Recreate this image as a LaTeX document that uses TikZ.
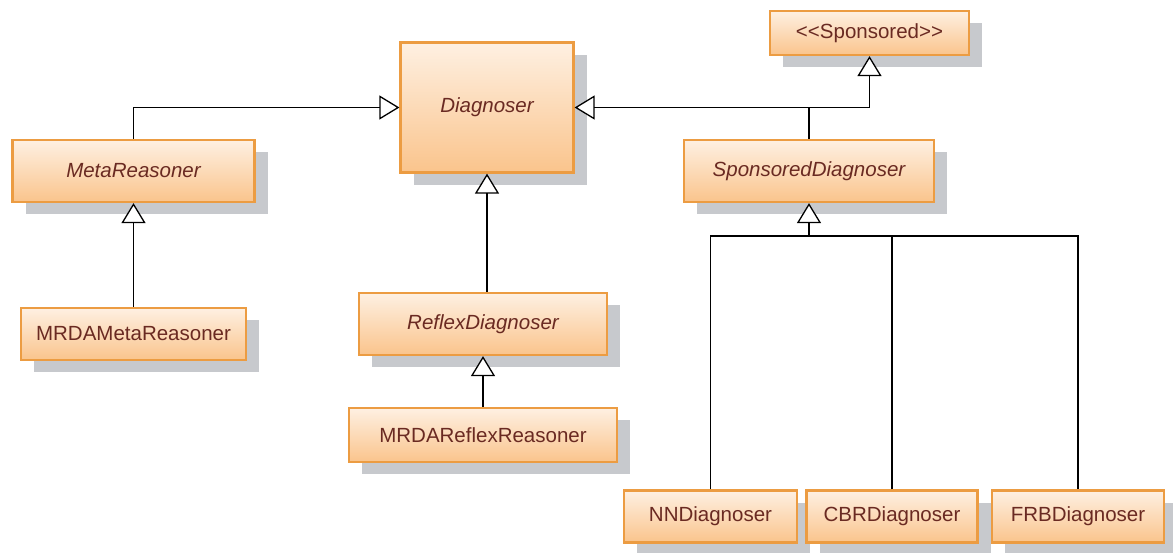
\documentclass[tikz,border=0pt]{standalone}
\usepackage{fontspec}
\setmainfont{Liberation Sans}
\usetikzlibrary{arrows.meta,shadows}

\definecolor{boxedge}{HTML}{EC9C42}
\definecolor{boxtop}{HTML}{FEF0E2}
\definecolor{boxbot}{HTML}{FAC48C}
\definecolor{clstext}{HTML}{6A2A22}
\definecolor{shadowgray}{HTML}{C7C9CD}

\tikzset{
  cls/.style={draw=boxedge, line width=2.2pt, top color=boxtop, bottom color=boxbot,
    drop shadow={shadow xshift=13pt, shadow yshift=-12pt, fill=shadowgray, opacity=1},
    text=clstext, inner sep=0pt, font=\fontsize{20.5}{24}\selectfont},
  abstractcls/.style={cls, font=\fontsize{20.5}{24}\selectfont\itshape},
  inherit/.style={line width=1.3pt, -{Triangle[length=20pt,width=24pt,fill=white]}},
  line/.style={line width=1.3pt}
}

\begin{document}
\begin{tikzpicture}[x=1pt,y=-1pt]
      \clip (0,0) rectangle (1173,552);
      \fill[white] (0,0) rectangle (1173,552);
      % classes
      \node[abstractcls, minimum width=173pt, minimum height=130pt] (diag) at (487,107.5) {Diagnoser};
      \node[cls, minimum width=199pt, minimum height=44pt] (spons) at (869.5,33) {<{}<Sponsored>{}>};
      \node[abstractcls, minimum width=242pt, minimum height=62pt] (meta) at (133.5,171) {MetaReasoner};
      \node[abstractcls, minimum width=250pt, minimum height=62pt] (sdiag) at (809,171) {SponsoredDiagnoser};
      \node[cls, minimum width=225pt, minimum height=52pt] (mrdameta) at (133.5,334) {MRDAMetaReasoner};
      \node[abstractcls, minimum width=248pt, minimum height=62pt] (reflex) at (483,324) {ReflexDiagnoser};
      \node[cls, minimum width=268pt, minimum height=54pt] (mrdareflex) at (483,435) {MRDAReflexReasoner};
      \node[cls, minimum width=173pt, minimum height=52pt] (nn) at (710.5,516.5) {NNDiagnoser};
      \node[cls, minimum width=171pt, minimum height=52pt] (cbr) at (892,516.5) {CBRDiagnoser};
      \node[cls, minimum width=172pt, minimum height=52pt] (frb) at (1078,516.5) {FRBDiagnoser};
      % generalisations
      \draw[inherit] (meta.north) |- (diag.west);
      \draw[inherit] (sdiag.north) |- (diag.east);
      \draw[inherit] (sdiag.north |- diag.east) -| (spons.south);
      \draw[inherit] (reflex.north -| diag.south) -- (diag.south);
      \draw[inherit] (mrdareflex.north) -- (reflex.south);
      \draw[inherit] (mrdameta.north) -- (meta.south);
      % sponsored diagnosers
      \coordinate (bus) at (809,236);
      \draw[inherit] (bus) -- (sdiag.south);
      \draw[line] (nn.north) |- (frb.north |- bus) -- (frb.north);
      \draw[line] (cbr.north) -- (cbr.north |- bus);
  \end{tikzpicture}
\end{document}
